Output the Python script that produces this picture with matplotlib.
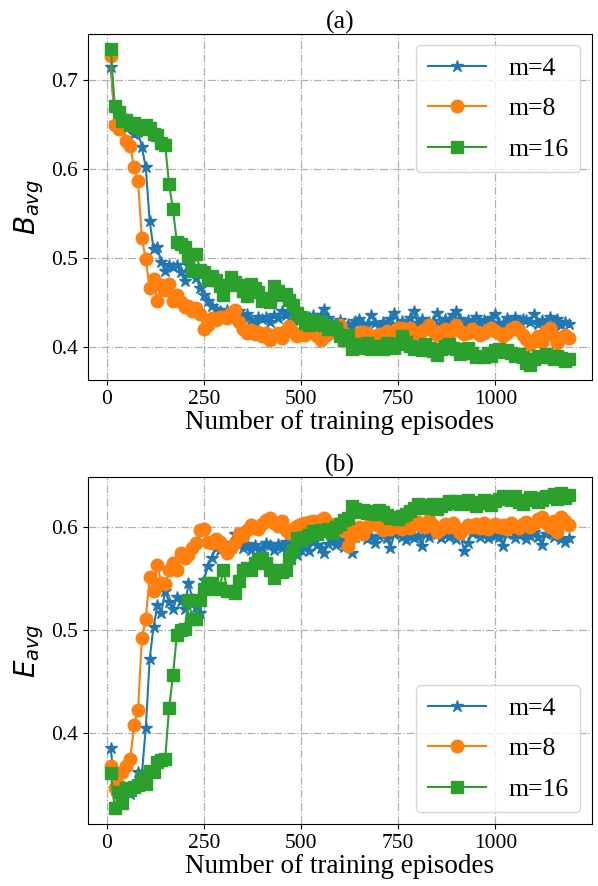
import numpy as np
import matplotlib.pyplot as plt

plt.rcParams['font.family'] = ['Liberation Serif', 'DejaVu Serif']
plt.rcParams['mathtext.fontset'] = 'dejavusans'

episodes = np.arange(10, 1200, 10)

b_m4 = [.715, .652, .655, .660, .656, .650, .640, .642, .625, .602,
        .542, .510, .512, .495, .485, .492, .490, .492, .484, .474,
        .492, .488, .478, .466, .458, .452, .446, .443, .440, .436,
        .442, .438, .432, .440, .434, .437, .430, .428, .434, .431,
        .433, .428, .436, .432, .440, .436, .438, .430, .434, .431,
        .428, .433, .436, .430, .436, .443, .432, .427, .425, .430,
        .422, .426, .423, .429, .431, .426, .424, .436, .427, .423,
        .428, .425, .431, .438, .426, .429, .424, .432, .440, .427,
        .431, .425, .428, .429, .438, .426, .431, .429, .436, .440,
        .431, .424, .430, .425, .433, .427, .430, .426, .432, .437,
        .427, .426, .432, .428, .433, .425, .431, .430, .428, .437,
        .426, .430, .424, .434, .427, .431, .425, .428, .426]
b_m8 = [.728, .650, .645, .652, .632, .626, .602, .587, .522, .499,
        .466, .476, .452, .470, .464, .471, .452, .458, .450, .445,
        .446, .440, .444, .437, .420, .424, .432, .430, .433, .434,
        .432, .438, .441, .428, .420, .416, .419, .414, .417, .412,
        .416, .408, .413, .415, .410, .418, .423, .417, .412, .414,
        .413, .418, .416, .412, .408, .411, .414, .418, .422, .424,
        .416, .412, .412, .409, .415, .417, .416, .412, .410, .414,
        .414, .418, .413, .416, .421, .421, .419, .421, .416, .414,
        .418, .420, .424, .418, .413, .417, .420, .415, .419, .424,
        .418, .414, .416, .420, .417, .413, .416, .419, .421, .418,
        .415, .412, .416, .420, .422, .419, .413, .409, .403, .406,
        .412, .405, .418, .421, .412, .404, .410, .413, .410]
b_m16 = [.735, .671, .665, .654, .655, .650, .652, .648, .645, .650,
         .646, .640, .639, .630, .627, .583, .555, .518, .516, .512,
         .501, .485, .505, .486, .484, .475, .480, .475, .468, .458,
         .470, .479, .473, .470, .463, .457, .471, .466, .462, .452,
         .455, .450, .468, .463, .458, .460, .453, .447, .438, .433,
         .427, .425, .430, .426, .428, .424, .420, .423, .421, .412,
         .408, .413, .397, .401, .403, .399, .404, .398, .400, .401,
         .397, .404, .400, .399, .403, .412, .405, .401, .398, .400,
         .396, .403, .399, .395, .391, .397, .401, .403, .399, .397,
         .392, .395, .399, .393, .388, .390, .388, .393, .390, .396,
         .397, .394, .396, .393, .390, .392, .388, .382, .380, .386,
         .390, .388, .392, .389, .386, .390, .387, .384, .386]

e_m4 = [.385, .345, .347, .343, .345, .341, .350, .362, .360, .405,
        .472, .503, .524, .517, .538, .527, .520, .532, .528, .520,
        .546, .530, .522, .517, .549, .562, .570, .580, .578, .582,
        .580, .585, .593, .586, .580, .584, .578, .583, .573, .580,
        .585, .583, .578, .584, .580, .586, .582, .585, .573, .578,
        .582, .577, .586, .583, .580, .575, .584, .587, .583, .588,
        .581, .586, .575, .590, .596, .594, .588, .590, .585, .591,
        .594, .589, .580, .593, .596, .590, .587, .592, .589, .591,
        .582, .594, .590, .597, .593, .589, .594, .590, .596, .588,
        .592, .577, .585, .594, .596, .590, .593, .589, .594, .591,
        .590, .582, .593, .596, .589, .592, .594, .588, .591, .595,
        .590, .583, .593, .596, .590, .594, .588, .586, .589]
e_m8 = [.368, .347, .350, .362, .368, .375, .408, .422, .492, .511,
        .552, .538, .563, .546, .545, .558, .565, .558, .575, .570,
        .573, .580, .585, .597, .598, .586, .585, .588, .586, .581,
        .575, .580, .585, .593, .591, .597, .602, .599, .598, .603,
        .607, .609, .604, .601, .606, .597, .594, .598, .601, .603,
        .604, .605, .606, .601, .607, .609, .604, .600, .603, .599,
        .596, .582, .590, .598, .600, .593, .600, .606, .603, .601,
        .597, .600, .598, .602, .600, .598, .601, .599, .603, .605,
        .601, .600, .607, .602, .595, .598, .603, .600, .604, .599,
        .594, .598, .602, .600, .603, .599, .604, .598, .601, .603,
        .600, .602, .598, .604, .601, .599, .603, .605, .600, .603,
        .608, .610, .604, .600, .606, .595, .610, .606, .602]
e_m16 = [.361, .327, .343, .332, .347, .345, .348, .350, .357, .351,
         .363, .362, .372, .374, .375, .424, .456, .495, .500, .501,
         .529, .511, .511, .529, .540, .546, .546, .540, .541, .558,
         .538, .538, .536, .548, .558, .560, .558, .565, .568, .570,
         .565, .558, .551, .558, .556, .558, .570, .578, .589, .587,
         .590, .592, .596, .593, .597, .596, .598, .594, .600, .603,
         .607, .609, .620, .618, .615, .617, .614, .616, .613, .617,
         .615, .612, .609, .610, .608, .611, .613, .616, .619, .622,
         .621, .619, .620, .622, .618, .620, .622, .625, .623, .625,
         .622, .624, .626, .622, .620, .624, .626, .623, .621, .625,
         .627, .630, .628, .626, .630, .624, .622, .626, .629, .628,
         .624, .626, .630, .629, .632, .627, .633, .628, .631]

labels = ['m=4', 'm=8', 'm=16']
markers = ['*', 'o', 's']
sizes = [9, 9, 8]

fig, (ax1, ax2) = plt.subplots(2, 1, figsize=(5.98, 8.86), dpi=100)
fig.subplots_adjust(left=0.147, right=0.99, top=0.962, bottom=0.07, hspace=0.28)

panels = [(ax1, [b_m4, b_m8, b_m16], '$B_{avg}$', '(a)', 'upper right'),
          (ax2, [e_m4, e_m8, e_m16], '$E_{avg}$', '(b)', 'lower right')]

for ax, series, ylab, title, loc in panels:
    for ys, lab, mk, ms in zip(series, labels, markers, sizes):
        ax.plot(episodes, ys, marker=mk, markersize=ms, linewidth=1.5, label=lab)
    ax.grid(True, linestyle='-.', color='#b0b0b0', linewidth=0.9)
    ax.set_xticks([0, 250, 500, 750, 1000])
    ax.tick_params(labelsize=15.5)
    ax.set_xlabel('Number of training episodes', fontsize=19.5, labelpad=1)
    ax.set_ylabel(ylab, fontsize=20)
    ax.set_title(title, fontsize=18.5, pad=2)
    ax.legend(loc=loc, fontsize=18.5, handlelength=2.25, labelspacing=0.68,
              borderpad=0.45, handletextpad=0.9, borderaxespad=0.45)

ax1.set_yticks([0.4, 0.5, 0.6, 0.7])
ax2.set_yticks([0.4, 0.5, 0.6])

fig.savefig('out.png')
